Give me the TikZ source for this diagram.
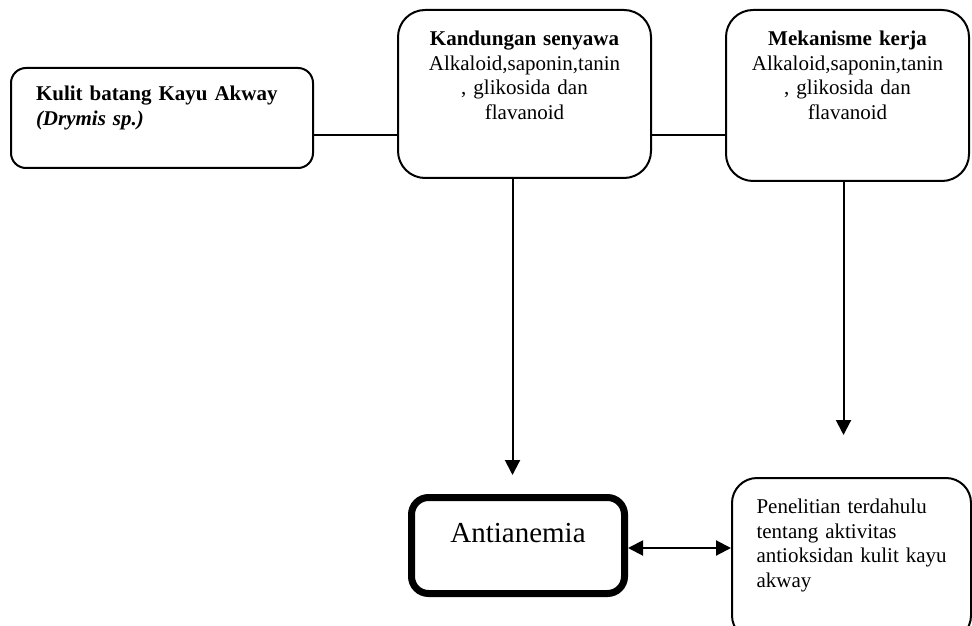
\documentclass[tikz,border=0pt]{standalone}
\usepackage{fontspec}
\setmainfont{Liberation Serif}
\usetikzlibrary{arrows.meta}

\begin{document}
\begin{tikzpicture}[x=0.5pt,y=-0.5pt,
    kotak/.style={draw, line width=1pt, rounded corners=13.5pt, anchor=north west,
      inner ysep=0pt, font=\fontsize{10.5}{12.3}\selectfont},
    panah/.style={line width=1pt, -{Triangle[length=7.5pt,width=7.5pt]}}]
  \useasboundingbox (0,0) rectangle (972,625);
  \clip (0,0) rectangle (972,625);

  \node[kotak, rounded corners=7.5pt, align=left, text width=126pt, inner xsep=12.5pt,
        text height=16.25pt, text depth=33.75pt] (kulit) at (10,67)
    {\textbf{Kulit batang Kayu Akway}\\\textbf{\textit{(Drymis sp.)}}};
  \node[kotak, align=center, text width=112pt, inner xsep=7.25pt,
        text height=17.75pt, text depth=66.25pt] (kandungan) at (397,9)
    {\textbf{Kandungan senyawa}\\Alkaloid,saponin,tanin\\, glikosida dan\\flavanoid};
  \node[kotak, align=center, text width=112pt, inner xsep=4.75pt,
        text height=17.75pt, text depth=67.75pt] (mekanisme) at (725,9)
    {\textbf{Mekanisme kerja}\\Alkaloid,saponin,tanin\\, glikosida dan\\flavanoid};

  \node[kotak, line width=3.5pt, rounded corners=8.5pt, align=center, text width=80pt,
        inner xsep=13.25pt, text height=22.25pt, text depth=25.75pt,
        font=\fontsize{14.5}{17}\selectfont] (antianemia) at (408,494) {Antianemia};
  \node[kotak, rounded corners=12.5pt, align=left, text width=98pt, inner xsep=10.75pt,
        text height=17.75pt, text depth=63.5pt] (penelitian) at (731,477)
    {\hspace*{1.5pt}Penelitian terdahulu\\\hspace*{1.5pt}tentang aktivitas\\\hspace*{1.5pt}antioksidan kulit kayu\\\hspace*{1.5pt}akway};

  % garis penghubung atas
  \draw[line width=1pt] ([yshift=-8.75pt]kulit.east) -- ([yshift=-8.75pt]kulit.east -| kandungan.west);
  \draw[line width=1pt] ([yshift=-8.75pt]kulit.east -| kandungan.east)
    -- ([yshift=-8.75pt]kulit.east -| mekanisme.west);

  \coordinate (ujung1) at ([xshift=-6pt,yshift=9.5pt]kandungan.south |- antianemia.north);
  \coordinate (ujung2) at ([xshift=-2pt,yshift=21pt]mekanisme.south |- penelitian.north);
  \draw[panah] ([xshift=-6pt]kandungan.south) -- (ujung1);
  \draw[panah] ([xshift=-2pt]mekanisme.south) -- (ujung2);

  \draw[line width=1pt, {Triangle[length=7.5pt,width=7.5pt]}-{Triangle[length=7.5pt,width=7.5pt]}]
    ([yshift=-1.25pt]antianemia.east) -- ([yshift=-1.25pt]antianemia.east -| penelitian.west);
\end{tikzpicture}
\end{document}
